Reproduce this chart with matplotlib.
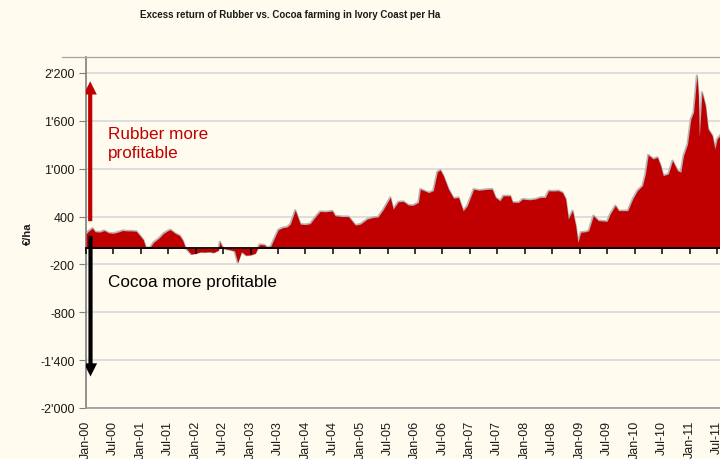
import matplotlib
matplotlib.use("Agg")
import matplotlib.pyplot as plt
import matplotlib.dates as mdates
from matplotlib.ticker import FixedLocator, FuncFormatter
from matplotlib.patches import FancyArrowPatch
from matplotlib.lines import Line2D
import pandas as pd

plt.rcParams["font.family"] = ["Liberation Sans", "DejaVu Sans"]

# Excess return of rubber over cocoa farming, EUR per hectare
dates = [
    "2000-01-01", "2000-01-16", "2000-02-13", "2000-03-01", "2000-04-01", "2000-05-01",
    "2000-06-01", "2000-07-01", "2000-08-01", "2000-09-01", "2000-10-01", "2000-11-01",
    "2000-12-01", "2000-12-25", "2001-01-16", "2001-02-01", "2001-03-01", "2001-03-25",
    "2001-05-01", "2001-06-01", "2001-07-01", "2001-07-16", "2001-08-16", "2001-09-16",
    "2001-10-07", "2001-10-25", "2001-11-01", "2001-12-01", "2002-01-01", "2002-02-01",
    "2002-03-01", "2002-04-01", "2002-05-01", "2002-06-01", "2002-06-10", "2002-06-25",
    "2002-07-16", "2002-08-16", "2002-09-16", "2002-10-07", "2002-11-01", "2002-12-01",
    "2003-01-01", "2003-02-01", "2003-03-01", "2003-04-01", "2003-04-25", "2003-05-16",
    "2003-06-07", "2003-07-04", "2003-08-01", "2003-09-01", "2003-09-22", "2003-10-25",
    "2003-11-28", "2004-01-01", "2004-02-01", "2004-03-04", "2004-04-07", "2004-05-16",
    "2004-06-28", "2004-07-16", "2004-09-01", "2004-10-13", "2004-11-28", "2005-01-01",
    "2005-02-15", "2005-03-25", "2005-04-28", "2005-06-01", "2005-07-19", "2005-08-07",
    "2005-09-10", "2005-10-13", "2005-11-16", "2005-12-16", "2006-01-22", "2006-02-04",
    "2006-03-07", "2006-04-01", "2006-05-01", "2006-05-28", "2006-06-16", "2006-07-07",
    "2006-08-10", "2006-09-13", "2006-10-16", "2006-11-16", "2006-12-13", "2007-01-25",
    "2007-03-01", "2007-04-16", "2007-05-28", "2007-06-19", "2007-07-19", "2007-08-10",
    "2007-09-25", "2007-10-10", "2007-11-19", "2007-12-16", "2008-02-01", "2008-03-10",
    "2008-04-13", "2008-05-16", "2008-06-07", "2008-07-10", "2008-08-10", "2008-09-07",
    "2008-09-28", "2008-10-16", "2008-11-13", "2008-12-04", "2008-12-19", "2009-01-07",
    "2009-02-10", "2009-03-01", "2009-04-01", "2009-05-04", "2009-07-01", "2009-07-22",
    "2009-08-25", "2009-09-16", "2009-11-16", "2009-12-19", "2010-01-19", "2010-02-22",
    "2010-03-13", "2010-04-01", "2010-05-04", "2010-06-01", "2010-06-22", "2010-07-10",
    "2010-08-13", "2010-09-10", "2010-10-13", "2010-11-04", "2010-11-22", "2010-12-19",
    "2011-01-10", "2011-01-28", "2011-02-19", "2011-03-01", "2011-03-07", "2011-03-25",
    "2011-04-16", "2011-05-04", "2011-06-01", "2011-06-19", "2011-07-04", "2011-07-25",
]
excess_return = [
    180, 215, 255, 210, 205, 225,
    195, 190, 205, 225, 220, 220,
    215, 160, 110, 15, 10, 75,
    130, 190, 225, 234, 190, 160,
    96, 0, -5, -70, -60, -42,
    -45, -40, -50, -20, 84, 20,
    -5, -15, -30, -175, -40, -84,
    -80, -60, 50, 45, 10, 30,
    125, 234, 260, 270, 305, 480,
    305, 300, 310, 389, 464, 460,
    470, 410, 400, 400, 293, 305,
    368, 389, 395, 485, 640, 493,
    585, 590, 545, 540, 577, 744,
    720, 700, 725, 960, 985, 911,
    744, 630, 640, 472, 535, 744,
    730, 740, 744, 640, 598, 660,
    660, 580, 577, 619, 610, 619,
    640, 640, 723, 720, 725, 702,
    621, 370, 474, 286, 77, 203,
    210, 224, 412, 349, 340, 433,
    537, 474, 474, 621, 725, 788,
    934, 1173, 1122, 1143, 1039, 913,
    934, 1101, 976, 955, 1164, 1310,
    1624, 1708, 2167, 1917, 1394, 1958,
    1792, 1499, 1415, 1248, 1373, 1420,
]

y_ticks = [-2000, -1400, -800, -200, 400, 1000, 1600, 2200]
tick_dates = pd.date_range("2000-01-01", "2011-07-01", freq="6MS")
tick_labels = [d.strftime("%b-%y") for d in tick_dates]

title = "Excess return of Rubber vs. Cocoa farming in Ivory Coast per Ha"
y_label = "€/ha"
rubber_text = "Rubber more\nprofitable"
cocoa_text = "Cocoa more profitable"

BG = "#FFFCEF"
RED = "#C00000"

x = pd.to_datetime(dates)

fig = plt.figure(figsize=(7.2, 4.6), dpi=100, facecolor=BG)
rect = [86 / 720, 1 - 409 / 460, 634 / 720, (409 - 58) / 460]
ax = fig.add_axes(rect, facecolor=BG)

x_min = pd.Timestamp("2000-01-01")
x_max = pd.Timestamp("2011-07-23")
ax.set_xlim(x_min, x_max)
ax.set_ylim(-2000, 2400)

# gridlines
ax.yaxis.set_major_locator(FixedLocator(y_ticks))
ax.yaxis.set_major_formatter(FuncFormatter(lambda v, p: f"{v:,.0f}".replace(",", "'")))
ax.grid(axis="y", color="#D9D9D9", lw=1.2, zorder=0)
ax.set_axisbelow(True)

# area with light grey edge
ax.plot(x, excess_return, color="#B5B5B5", lw=1.6, zorder=2)
ax.fill_between(x, 0, excess_return, color=RED, lw=0, zorder=3)

# spines
ax.spines["right"].set_visible(False)
ax.spines["top"].set_color("#A6A6A6")
ax.spines["top"].set_linewidth(0.9)
ax.spines["left"].set_color("#7F7F7F")
ax.spines["bottom"].set_color("#9A9A9A")
ax.spines["left"].set_linewidth(1.2)
ax.spines["bottom"].set_linewidth(1.2)
fig.add_artist(Line2D([62 / 720, 86 / 720], [1 - 58 / 460, 1 - 58 / 460],
                      color="#A6A6A6", lw=0.9))

ax.xaxis.set_major_locator(FixedLocator(mdates.date2num(tick_dates)))
ax.set_xticklabels(tick_labels, rotation=90, fontsize=9, color="#1A1A1A", va="top")
ax.tick_params(axis="x", length=0, pad=8.5)
ax.tick_params(axis="y", direction="out", length=5, color="#7F7F7F", labelsize=9,
               labelcolor="#1A1A1A", pad=3)

ax.set_ylabel(y_label, fontsize=8, fontweight="bold", color="#1A1A1A")
ax.yaxis.label.set_va("center")
ax.yaxis.set_label_coords(-58 / 634, 0.5)

# zero axis with tick marks
ax0 = fig.add_axes(rect, sharex=ax, sharey=ax, facecolor="none")
for side in ("top", "right", "left"):
    ax0.spines[side].set_visible(False)
ax0.spines["bottom"].set_position(("data", 0))
ax0.spines["bottom"].set_color("black")
ax0.spines["bottom"].set_linewidth(1.3)
ax0.spines["bottom"].set_zorder(5)
ax0.tick_params(axis="x", direction="out", length=4, width=1.1, color="black",
                labelbottom=False)
ax0.tick_params(axis="y", left=False, labelleft=False)

# direction arrows
arrow_x = mdates.date2num(pd.Timestamp("2000-01-29"))
up = FancyArrowPatch((arrow_x, 307), (arrow_x, 2130),
                     arrowstyle="simple,head_length=0.95,head_width=0.95,tail_width=0.3",
                     mutation_scale=10, color=RED, lw=0, zorder=6)
down = FancyArrowPatch((arrow_x + 2, 194), (arrow_x + 2, -1640),
                       arrowstyle="simple,head_length=0.95,head_width=0.95,tail_width=0.3",
                       mutation_scale=10, color="black", lw=0, zorder=6)
ax0.add_patch(up)
ax0.add_patch(down)

text_x = mdates.date2num(pd.Timestamp("2000-05-25"))
ax0.text(text_x, 1530, rubber_text, color=RED, fontsize=12.3, ha="left", va="top",
         linespacing=1.3)
ax0.text(text_x, -408, cocoa_text, color="black", fontsize=12.3, ha="left", va="center")

fig.text(290 / 720, 1 - 15 / 460, title, ha="center", va="center", fontsize=7,
         fontweight="bold", color="#1A1A1A")

fig.savefig("out.png", dpi=100, facecolor=BG)
